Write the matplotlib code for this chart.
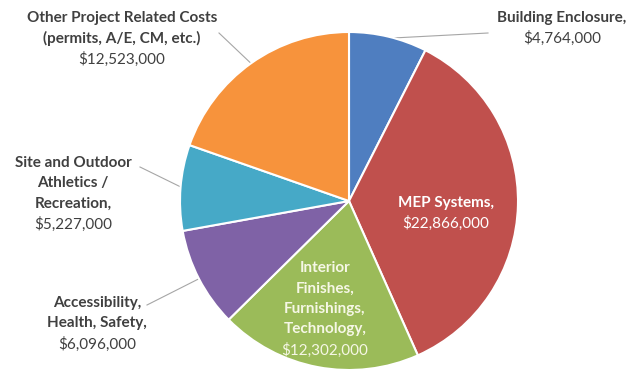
import matplotlib
matplotlib.use("Agg")
import matplotlib.pyplot as plt
import numpy as np

# ---- data ----
categories = [
    "Building Enclosure",
    "MEP Systems",
    "Interior Finishes, Furnishings, Technology",
    "Accessibility, Health, Safety",
    "Site and Outdoor Athletics / Recreation",
    "Other Project Related Costs (permits, A/E, CM, etc.)",
]
values = [4764000, 22866000, 12302000, 6096000, 5227000, 12523000]
name_lines = [
    ["Building Enclosure,"],
    ["MEP Systems,"],
    ["Interior", "Finishes,", "Furnishings,", "Technology,"],
    ["Accessibility,", "Health, Safety,"],
    ["Site and Outdoor", "Athletics /", "Recreation,"],
    ["Other Project Related Costs", "(permits, A/E, CM, etc.)"],
]
value_labels = ["${:,}".format(v) for v in values]

# ---- style ----
colors = ["#4F7EC0", "#C0504D", "#9BBB59", "#7F62A6", "#46A9C7", "#F7933C"]
W, H = 630, 373
CX, CY, R = 349, 201, 169
label_first = [(562, 18), (446, 203), (325, 268), (97, 303), (73, 163), (122, 18)]
label_step = 20.5
label_colors = ["#404040", "white", "#F6F7E6", "#404040", "#404040", "#404040"]
leader_text_end = [(488, 33), None, None, (147, 305), (140, 167), (219, 33)]
FONT = "Lato"
FS = 11

fig = plt.figure(figsize=(W / 100, H / 100), dpi=100)
ax = fig.add_axes([0, 0, 1, 1])

def Y(y):
    return H - y

wedges, _ = ax.pie(
    values,
    colors=colors,
    startangle=90,
    counterclock=False,
    center=(CX, Y(CY)),
    radius=R,
    wedgeprops=dict(edgecolor="white", linewidth=1.5),
    frame=True,
)
ax.set_xlim(0, W)
ax.set_ylim(0, H)
ax.set_aspect("equal")
ax.axis("off")

for i, w in enumerate(wedges):
    x0, y0 = label_first[i]
    lines = name_lines[i]
    for k, ln in enumerate(lines):
        ax.text(x0, Y(y0 + k * label_step), ln, ha="center", va="center",
                fontsize=FS, fontweight="bold", family=FONT, color=label_colors[i])
    ax.text(x0, Y(y0 + len(lines) * label_step), value_labels[i], ha="center", va="center",
            fontsize=FS, family=FONT, color=label_colors[i])
    if leader_text_end[i] is not None:
        mid = np.deg2rad((w.theta1 + w.theta2) / 2)
        ex = CX + R * 0.99 * np.cos(mid)
        ey = Y(CY) + R * 0.99 * np.sin(mid)
        tx, ty = leader_text_end[i]
        ax.plot([tx, ex], [Y(ty), ey], color="#A6A6A6", lw=0.8, zorder=0.5)

fig.savefig("out.png", dpi=100, facecolor="white")
